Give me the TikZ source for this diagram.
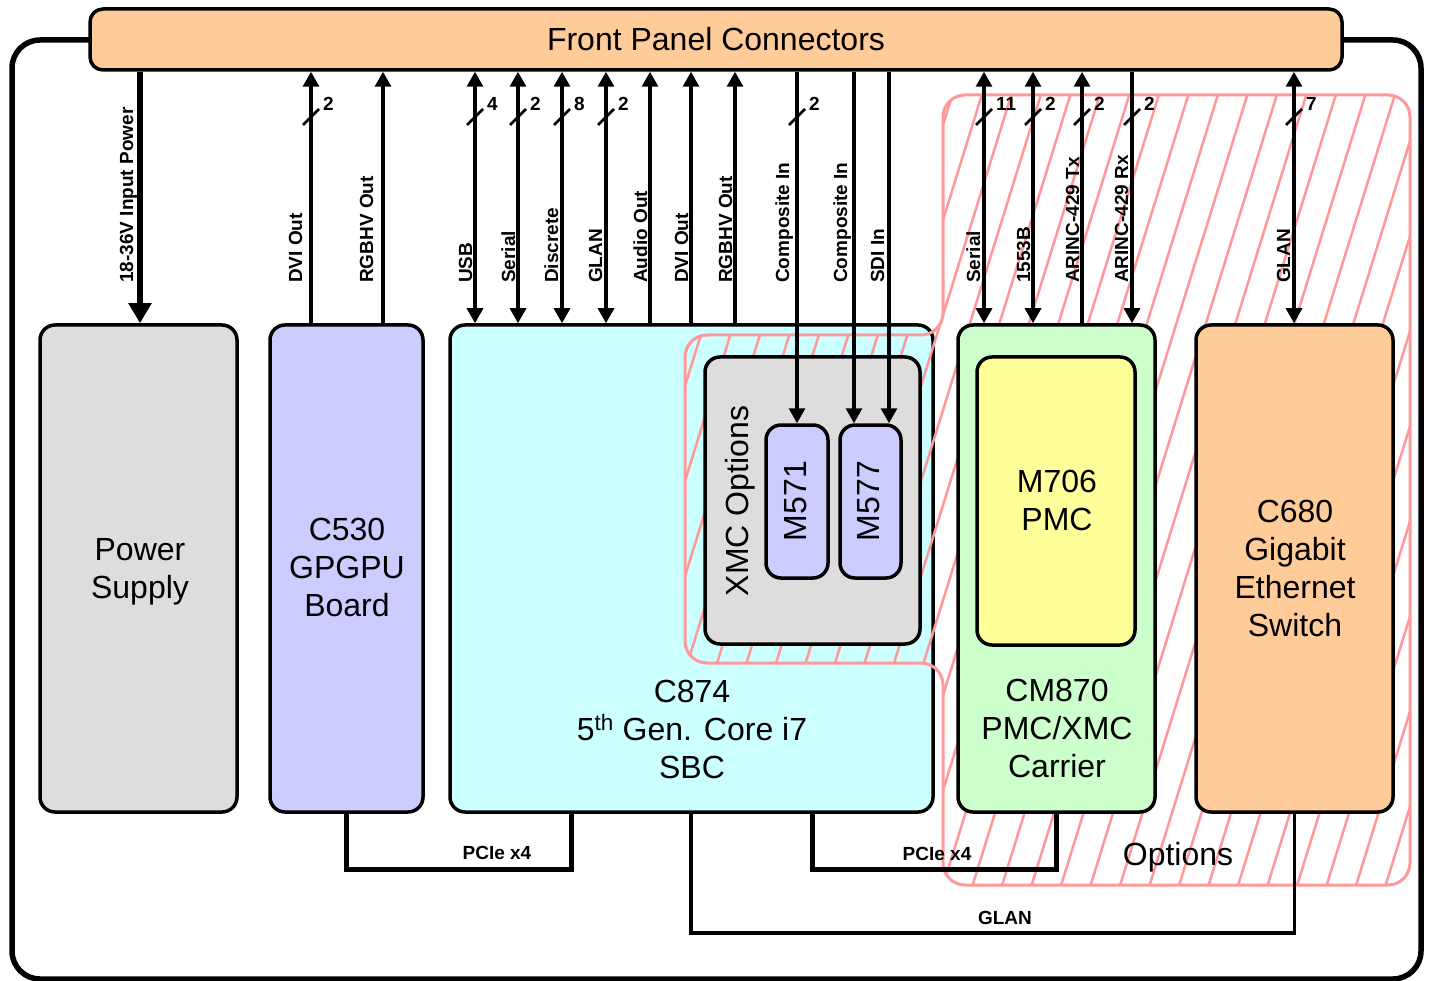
\documentclass[tikz,border=0pt]{standalone}
\usepackage{fontspec}
\setmainfont{Liberation Sans}
\usetikzlibrary{arrows.meta}
\definecolor{fpc}{HTML}{FFCC99}
\definecolor{grayc}{HTML}{DDDDDD}
\definecolor{bluec}{HTML}{CCCCFF}
\definecolor{cyanc}{HTML}{CCFFFF}
\definecolor{greenc}{HTML}{CCFFCC}
\definecolor{yellowc}{HTML}{FFFF99}
\definecolor{pinkc}{HTML}{FF9999}
\newcommand\busmark[2]{%
  \draw[line width=2.5pt] ({#1-8},125) -- ({#1+8},109);
  \node[num] (bm#1) at ({#1+12},104) {#2};}
\begin{document}
\begin{tikzpicture}[x=1pt,y=-1pt,
  box/.style={draw, line width=3.5pt, rounded corners=15pt, inner sep=0pt},
  lab/.style={font=\fontsize{32}{38}\selectfont, align=center, inner sep=0pt},
  sm/.style={font=\bfseries\fontsize{19}{22}\selectfont},
  smv/.style={sm, rotate=90, anchor=base west, inner sep=0pt},
  num/.style={sm, anchor=west, inner sep=0pt},
  wire/.style={line width=3.2pt},
  upar/.style={wire, -{Triangle[length=15pt,width=16pt]}},
  bothar/.style={wire, {Triangle[length=15pt,width=16pt]}-{Triangle[length=15pt,width=16pt]}},
  hatch/.style={draw=pinkc, line width=2.5pt},
  pcie/.style={line width=5pt}]
\useasboundingbox (0,0) rectangle (1429,981);
% outer frame
\draw[line width=5.5pt, rounded corners=28pt] (12,40) rectangle (1421,979);
% front panel bar
\node[box, rounded corners=13pt, fill=fpc, minimum width=1252pt, minimum height=61pt, font=\fontsize{32}{38}\selectfont] (fp) at (716,39.5) {Front Panel Connectors};
% main boxes
\node[box, fill=grayc, minimum width=197pt, minimum height=487pt] (ps) at (138.5,568.5) {};
\node[box, fill=bluec, minimum width=153pt, minimum height=487pt] (c530) at (346.5,568.5) {};
\node[box, fill=cyanc, minimum width=483pt, minimum height=487pt] (c874) at (691.5,568.5) {};
% options region
\begin{scope}
\clip[rounded corners=22pt] (1100,95) -- (1410,95) -- (1410,885) -- (943,885) -- (943,663) -- (685,663) -- (685,335) -- (943,335) -- (943,95) -- cycle;
\foreach \k in {-18,...,16} {\draw[hatch] ({968+29.5*\k},900) -- ++(256,-825);}
\end{scope}
\draw[pinkc, line width=3pt, rounded corners=22pt] (1100,95) -- (1410,95) -- (1410,885) -- (943,885) -- (943,663) -- (685,663) -- (685,335) -- (943,335) -- (943,95) -- cycle;
% inner and right boxes
\node[box, fill=grayc, minimum width=215pt, minimum height=287pt] (xmc) at (812.5,500.5) {};
\node[box, fill=bluec, minimum width=62pt, minimum height=153pt] (m571) at (797,501.5) {};
\node[box, fill=bluec, minimum width=61pt, minimum height=153pt] (m577) at (870.5,501.5) {};
\node[box, fill=greenc, minimum width=197pt, minimum height=487pt] (cm870) at (1056.5,568.5) {};
\node[box, fill=yellowc, minimum width=158pt, minimum height=288pt] (m706) at (1056,501) {};
\node[box, fill=fpc, minimum width=197pt, minimum height=487pt] (c680) at (1294.5,568.5) {};
% box labels
\node[lab] (tps) at (140,572) {Power\\Supply};
\node[lab] (tc530) at (347,567) {C530\\GPGPU\\Board};
\node[lab] (tc874) at (692,729) {C874\\5\textsuperscript{th} Gen. Core i7\\SBC};
\node[lab] (tcm870) at (1057,728) {CM870\\PMC/XMC\\Carrier};
\node[lab] (tm706) at (1057,500) {M706\\PMC};
\node[lab] (tc680) at (1295,568) {C680\\Gigabit\\Ethernet\\Switch};
\node[lab, rotate=90] (txmc) at (740,501) {XMC Options};
\node[lab, rotate=90] (tm571) at (796,501) {M571};
\node[lab, rotate=90] (tm577) at (869,501) {M577};
\node[lab] (topt) at (1178,857) {Options};
% signal positions and labels
\foreach \n/\x/\lx/\txt in {pw/140/133/18-36V Input Power, a1/311/302/DVI Out, a2/383/373/RGBHV Out,
  b1/475/472/USB, b2/518/515/Serial, b3/562/558/Discrete, b4/606/602/GLAN, b5/650/647/Audio Out,
  b6/691/688/DVI Out, b7/735/732/RGBHV Out, b8/797/789/Composite In, b9/854/847/Composite In,
  b10/889/884/SDI In, c1/984/980/Serial, c2/1033/1030/1553B, c3/1082/1079/ARINC-429 Tx,
  c4/1132/1128/ARINC-429 Rx, d1/1294/1290/GLAN} {
  \coordinate (\n) at (\x,0);
  \node[smv] (l\n) at (\lx,283) {\txt};
}
% connectors
\draw[line width=6pt, -{Triangle[length=20pt,width=22pt]}] (fp.south -| pw) -- (ps.north -| pw);
\draw[upar] (c530.north -| a1) -- (fp.south -| a1);
\draw[upar] (c530.north -| a2) -- (fp.south -| a2);
\draw[bothar] (c874.north -| b1) -- (fp.south -| b1);
\draw[bothar] (c874.north -| b2) -- (fp.south -| b2);
\draw[bothar] (c874.north -| b3) -- (fp.south -| b3);
\draw[bothar] (c874.north -| b4) -- (fp.south -| b4);
\draw[upar] (c874.north -| b5) -- (fp.south -| b5);
\draw[upar] (c874.north -| b6) -- (fp.south -| b6);
\draw[upar] (c874.north -| b7) -- (fp.south -| b7);
\draw[upar] (fp.south -| b8) -- (m571.north -| b8);
\draw[upar] (fp.south -| b9) -- (m577.north -| b9);
\draw[upar] (fp.south -| b10) -- (m577.north -| b10);
\draw[bothar] (cm870.north -| c1) -- (fp.south -| c1);
\draw[bothar] (cm870.north -| c2) -- (fp.south -| c2);
\draw[upar] (cm870.north -| c3) -- (fp.south -| c3);
\draw[upar] (fp.south -| c4) -- (cm870.north -| c4);
\draw[bothar] (c680.north -| d1) -- (fp.south -| d1);
% bus widths
\busmark{311}{2}
\busmark{475}{4}
\busmark{518}{2}
\busmark{562}{8}
\busmark{606}{2}
\busmark{797}{2}
\busmark{984}{11}
\busmark{1033}{2}
\busmark{1082}{2}
\busmark{1132}{2}
\busmark{1294}{7}
% bottom links
\coordinate (p1) at (571,869);
\coordinate (p2) at (812,869);
\coordinate (g1) at (691,933);
\draw[pcie] (c530.south) |- (p1) -- (c874.south -| p1);
\node[sm] (lp1) at (497,853) {PCIe x4};
\draw[pcie] (c874.south -| p2) -- (p2) -| (cm870.south);
\node[sm] (lp2) at (937,854) {PCIe x4};
\draw[line width=3.2pt] (c874.south -| g1) -- (g1) -| (c680.south);
\node[sm] (lg1) at (1005,918) {GLAN};
\end{tikzpicture}
\end{document}
